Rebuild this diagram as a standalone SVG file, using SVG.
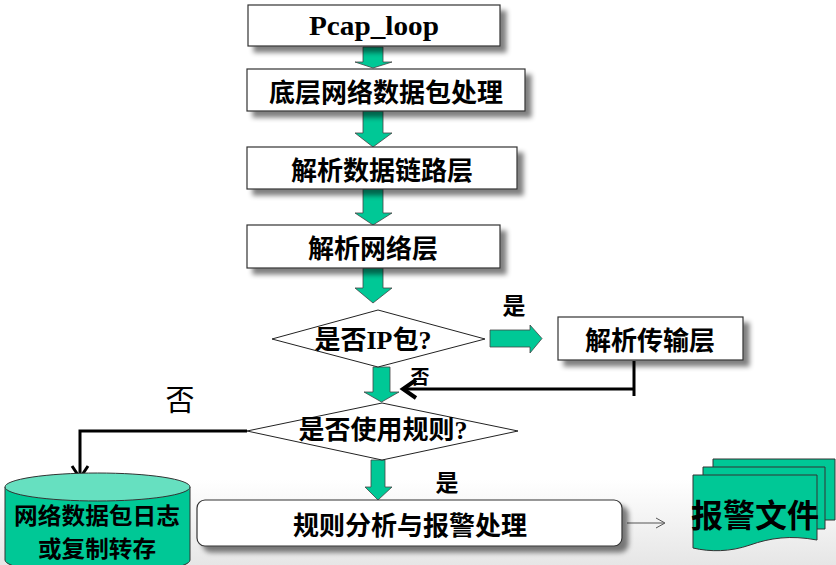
<svg xmlns="http://www.w3.org/2000/svg" width="836" height="565" viewBox="0 0 836 565">
<defs>
<filter id="sh" x="-10%" y="-20%" width="130%" height="160%">
<feGaussianBlur in="SourceAlpha" stdDeviation="2.5"/>
<feOffset dx="6" dy="6" result="b"/>
<feComponentTransfer><feFuncA type="linear" slope="0.5"/></feComponentTransfer>
<feMerge><feMergeNode/><feMergeNode in="SourceGraphic"/></feMerge>
</filter>
<linearGradient id="bg" x1="0" y1="0" x2="0" y2="1">
<stop offset="0" stop-color="#ffffff"/>
<stop offset="1" stop-color="#e6e6e6"/>
</linearGradient>
</defs>
<style>
.box{fill:#fff;stroke:#333;stroke-width:1.2}
.dia{fill:#fff;stroke:#222;stroke-width:1}
.garr{fill:#00c896;stroke:#444;stroke-width:0.8}
.t{font-family:"Noto Sans CJK SC","Noto Sans",sans-serif;font-weight:bold;fill:#000;text-anchor:middle;dominant-baseline:central}
.s{font-family:"Liberation Serif","Noto Sans CJK SC",serif;font-weight:bold;fill:#000;text-anchor:middle;dominant-baseline:central}
.line{fill:none;stroke:#000;stroke-width:3}
.doc{fill:#00c896;stroke:#333;stroke-width:1}
</style>
<rect x="0" y="0" width="836" height="565" fill="#fff"/>
<rect x="0" y="480" width="836" height="85" fill="url(#bg)"/>

<g id="connectors">
<path class="garr" d="M363,47 H383 V62 H392 L373,68 L355,62 H363 Z"/>
<path class="garr" d="M363,111 H383 V133 H392 L373,147 L355,133 H363 Z"/>
<path class="garr" d="M363,189 H383 V213 H392 L373,225 L355,213 H363 Z"/>
<path class="garr" d="M363,268 H383 V288 H392 L373,303 L355,288 H363 Z"/>
<path class="garr" d="M373,367 H390 V392 H399 L381.5,402 L364,392 H373 Z"/>
<path class="garr" d="M371,460 H385 V487 H392 L378,500 L365,487 H371 Z"/>
<path class="garr" d="M490,330 H530 V325 L542,338.5 L530,353 V347 H490 Z"/>
<path class="line" d="M634,361 V396 M634,389 H404"/>
<path d="M416,380 L403,389 L416,398" fill="none" stroke="#000" stroke-width="4"/>
<path class="line" d="M247,431 H80 V476"/>
<path d="M72,466 L80,478 L88,466" fill="none" stroke="#000" stroke-width="3"/>
<path d="M627,523 H664 M656,518 L665,523 L656,528" fill="none" stroke="#555" stroke-width="1"/>
<text class="t" x="514" y="304" font-size="23">是</text>
<text class="s" x="420" y="377" font-size="19">否</text>
<text x="180" y="398" font-family="Noto Sans CJK SC,sans-serif" font-size="29" text-anchor="middle" dominant-baseline="central" fill="#000">否</text>
<text class="t" x="447" y="481" font-size="23">是</text>
</g>

<g id="n1">
<rect class="box" x="248" y="5" width="252" height="41" filter="url(#sh)"/>
<text class="s" x="374" y="26" font-size="27" textLength="130" lengthAdjust="spacingAndGlyphs">Pcap_loop</text>
</g>
<g id="n2">
<rect class="box" x="247" y="69" width="278" height="42" filter="url(#sh)"/>
<text class="t" x="386" y="90" font-size="26">底层网络数据包处理</text>
</g>
<g id="n3">
<rect class="box" x="247" y="147" width="270" height="42" filter="url(#sh)"/>
<text class="t" x="382" y="168" font-size="26">解析数据链路层</text>
</g>
<g id="n4">
<rect class="box" x="247" y="225" width="253" height="43" filter="url(#sh)"/>
<text class="t" x="373" y="246" font-size="26">解析网络层</text>
</g>
<g id="n5">
<polygon class="dia" points="272,339 378,310 485,339 378,367"/>
<text class="s" x="373" y="340" font-size="26">是否IP包?</text>
</g>
<g id="n6">
<rect class="box" x="558" y="317" width="185" height="43" filter="url(#sh)"/>
<text class="t" x="650" y="338" font-size="26">解析传输层</text>
</g>
<g id="n7">
<polygon class="dia" points="247,431 382,403 518,431 382,460"/>
<text class="s" x="383" y="430" font-size="26">是否使用规则?</text>
</g>
<g id="n8">
<path d="M5,487 V560 A92.5,14 0 0 0 190,560 V487" fill="#00c896" stroke="#333" stroke-width="1"/>
<ellipse cx="97.5" cy="487" rx="92.5" ry="14" fill="#66e0c0" stroke="#333" stroke-width="1"/>
<text class="t" x="97" y="514" font-size="23" textLength="166" lengthAdjust="spacingAndGlyphs">网络数据包日志</text>
<text class="t" x="97" y="547" font-size="23" textLength="118" lengthAdjust="spacingAndGlyphs">或复制转存</text>
</g>
<g id="n9">
<rect class="box" x="197" y="500" width="425" height="46" rx="8" filter="url(#sh)"/>
<text class="t" x="410" y="523" font-size="26">规则分析与报警处理</text>
</g>
<g id="n10">
<path class="doc" d="M713,459 H835 V520 H713 Z"/>
<path class="doc" d="M703,467 H825 V529 H703 Z"/>
<path class="doc" d="M693,475 H817 V540 C790,535 770,538 750,545 C730,552 710,552 693,548 Z"/>
<text class="t" x="755" y="513" font-size="32">报警文件</text>
</g>
</svg>
